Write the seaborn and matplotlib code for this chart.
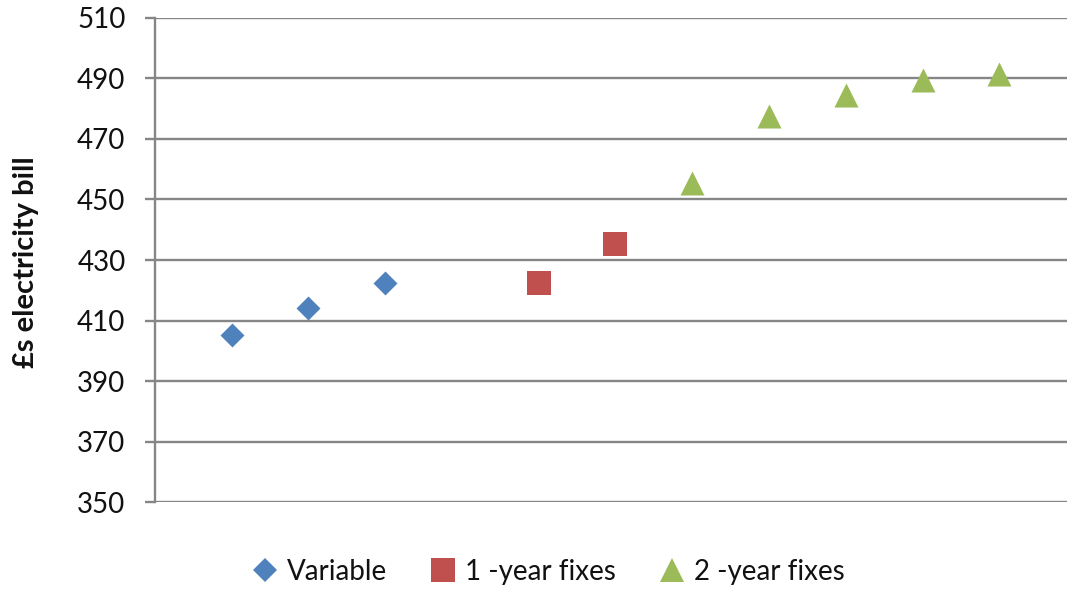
import matplotlib
matplotlib.use("Agg")
import matplotlib.pyplot as plt
from matplotlib.lines import Line2D
import pandas as pd
import seaborn as sns

# Tariff positions along the unlabeled category axis (slot 4 is left empty)
variable_pos = [1, 2, 3]
variable_bill = [405.3, 414.3, 422.3]
fix1_pos = [5, 6]
fix1_bill = [422.3, 435.3]
fix2_pos = [7, 8, 9, 10, 11]
fix2_bill = [455.4, 477.4, 484.4, 489.3, 491.4]

series_names = ["Variable", "1 -year fixes", "2 -year fixes"]
series_colors = ["#4F81BD", "#C0504D", "#9BBB59"]
series_markers = ["D", "s", "^"]
series_ms = [12.2, 17.0, 17.3]

y_ticks = [350, 370, 390, 410, 430, 450, 470, 490, 510]
y_label = "£s electricity bill"

sns.set_theme(style="white")
plt.rcParams["font.family"] = ["Lato", "DejaVu Sans"]

fig = plt.figure(figsize=(10.67, 5.91), dpi=100)
ax = fig.add_axes([0.145, 0.150, 0.855, 0.820])

frames = [
    pd.DataFrame({"pos": variable_pos, "bill": variable_bill}),
    pd.DataFrame({"pos": fix1_pos, "bill": fix1_bill}),
    pd.DataFrame({"pos": fix2_pos, "bill": fix2_bill}),
]
for df, name, col, mk, ms in zip(frames, series_names, series_colors, series_markers, series_ms):
    sns.scatterplot(data=df, x="pos", y="bill", ax=ax, color=col, marker=mk,
                    s=ms ** 2, linewidth=0, label=name, legend=False, zorder=3)

ax.set_xlim(0, 11.88)
ax.set_ylim(350, 510)
ax.set_yticks(y_ticks)
ax.set_xticks([])
ax.set_xlabel("")
ax.set_ylabel("")

grid_col = "#868686"
ax.yaxis.grid(True, color=grid_col, linewidth=1.7)
ax.set_axisbelow(True)
for side in ["top", "right", "bottom"]:
    ax.spines[side].set_visible(False)
ax.spines["left"].set_color(grid_col)
ax.spines["left"].set_linewidth(1.7)
ax.tick_params(axis="y", which="major", left=True, length=7, width=1.7,
               color=grid_col, pad=14, labelsize=20, labelcolor="#111111")

fig.text(26 / 1067, 1 - 262 / 591, y_label, rotation=90, ha="center", va="center",
         fontsize=21, fontweight="bold", color="#111111")

handles = [Line2D([], [], linestyle="none", marker=mk, color=col, markersize=ms,
                  markeredgewidth=0)
           for col, mk, ms in zip(series_colors, series_markers, series_ms)]
fig.legend(handles, series_names, loc="center", bbox_to_anchor=(548 / 1067, 1 - 572 / 591),
           ncol=3, frameon=False, fontsize=20, handlelength=1.0, handletextpad=0.3,
           columnspacing=1.5, labelcolor="#111111")

fig.savefig("out.png", dpi=100)
